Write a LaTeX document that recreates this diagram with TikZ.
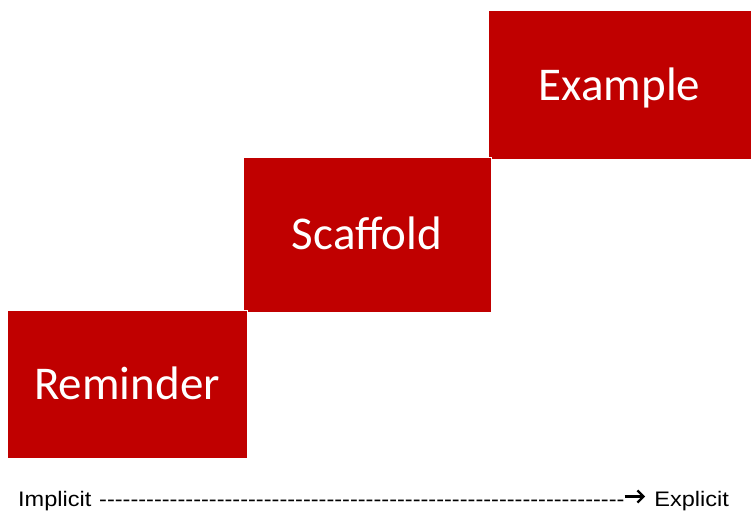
\documentclass[tikz,border=0pt]{standalone}
\usepackage{graphicx}
\usepackage{fontspec}
\usetikzlibrary{arrows.meta}
\setmainfont{Carlito}
\newfontfamily\labelfont{Liberation Sans}
\definecolor{stepred}{HTML}{C00000}
\begin{document}
\begin{tikzpicture}[x=1pt,y=-1pt,
  stepbox/.style={rectangle, fill=stepred, draw=white, line width=1pt,
    text=white, inner sep=0pt, text height=30pt, text depth=0pt,
    font=\fontsize{47}{56}\selectfont},
  scalelabel/.style={inner sep=0pt,
    font=\labelfont\fontsize{21}{25}\selectfont},
  scalearrow/.style={line width=2.2pt, -{Straight Barb[length=6pt,width=12pt,line width=2.2pt]}}]
\useasboundingbox (0,0) rectangle (751,519);

% the three steps, rising from left to right
\node[stepbox, minimum width=263pt, minimum height=148pt] (example)  at (619.5,85)  {Example};
\node[stepbox, minimum width=248pt, minimum height=155pt] (scaffold) at (367,234.5) {Scaffold};
\node[stepbox, minimum width=240pt, minimum height=148pt] (reminder) at (127,384)  {Reminder};

% scale along the bottom: implicit ---> explicit
\node[scalelabel, anchor=base west] (implicit) at (18,506) {\scalebox{1.12}[1]{Implicit}};
\node[scalelabel, anchor=base west] (dashes) at (99,506)
  {\scalebox{1.12}[1]{\hbox to 469pt{\xleaders\hbox{-}\hfill}}};
\node[scalelabel, anchor=base east] (explicit) at (729,506) {\scalebox{1.12}[1]{Explicit}};
\coordinate (arrowstart) at (dashes.east |- 0,496.5);
\coordinate (arrowend) at (645,496.5);
\draw[scalearrow] (arrowstart) -- (arrowend);
\end{tikzpicture}
\end{document}
